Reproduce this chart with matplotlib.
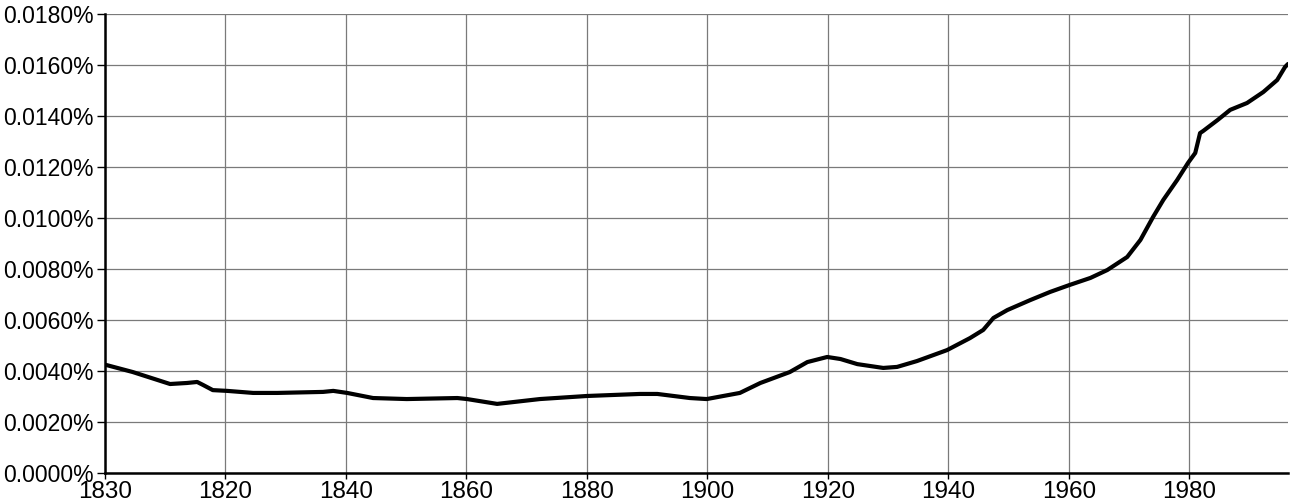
import matplotlib
matplotlib.use("Agg")
import matplotlib.pyplot as plt
from matplotlib.ticker import FixedLocator

years = [1800.0, 1800.3, 1804.6, 1810.8, 1813.6, 1815.3, 1816.3, 1817.9, 1820.3, 1824.6,
         1828.6, 1836.2, 1837.9, 1840.2, 1844.5, 1850.1, 1858.5, 1860.1, 1865.1,
         1872.2, 1880.0, 1888.8, 1891.7, 1897.1, 1899.9, 1905.4, 1908.8, 1913.7,
         1916.6, 1919.9, 1922.1, 1924.9, 1929.2, 1931.5, 1934.8, 1939.8, 1943.6,
         1945.8, 1947.5, 1949.8, 1953.6, 1956.9, 1960.1, 1963.6, 1966.4, 1969.7,
         1971.9, 1974.0, 1975.7, 1978.0, 1979.8, 1981.0, 1981.8, 1982.3, 1984.7,
         1986.8, 1989.6, 1992.3, 1994.6, 1995.9, 1996.4]
values = [0.00424, 0.00423, 0.00396, 0.00349, 0.00353, 0.00357, 0.00345, 0.00325,
          0.00322, 0.00314, 0.00314, 0.00318, 0.00322, 0.00314, 0.00294, 0.00290,
          0.00294, 0.00290, 0.00271, 0.00290, 0.00302, 0.00310, 0.00310, 0.00294,
          0.00290, 0.00314, 0.00353, 0.00396, 0.00435, 0.00455, 0.00447, 0.00427,
          0.00412, 0.00416, 0.00439, 0.00482, 0.00529, 0.00561, 0.00608, 0.00639,
          0.00678, 0.00710, 0.00737, 0.00765, 0.00796, 0.00847, 0.00914, 0.01004,
          0.01071, 0.01149, 0.01216, 0.01255, 0.01333, 0.01341, 0.01384, 0.01424,
          0.01451, 0.01494, 0.01541, 0.01592, 0.01604]

xticks = [1800, 1820, 1840, 1860, 1880, 1900, 1920, 1940, 1960, 1980]
xtick_labels = ["1830", "1820", "1840", "1860", "1880", "1900", "1920", "1940", "1960", "1980"]
yticks = [0.0, 0.002, 0.004, 0.006, 0.008, 0.010, 0.012, 0.014, 0.016, 0.018]
ytick_labels = ["%.4f%%" % v for v in yticks]

plt.rcParams['font.family'] = ['Liberation Sans', 'DejaVu Sans']

fig = plt.figure(figsize=(12.9, 5.04), dpi=100)
ax = fig.add_axes([105/1290, 31/504, (1288-105)/1290, (473-14)/504])

ax.plot(years, values, color="black", linewidth=3.0, solid_capstyle="round",
        solid_joinstyle="round", zorder=3)

ax.set_xlim(1800, 1996.4)
ax.set_ylim(0, 0.018)
ax.xaxis.set_major_locator(FixedLocator(xticks))
ax.set_xticklabels(xtick_labels)
ax.yaxis.set_major_locator(FixedLocator(yticks))
ax.set_yticklabels(ytick_labels)

ax.grid(True, color="#7a7a7a", linewidth=0.9)
for s in ["top", "right"]:
    ax.spines[s].set_visible(False)
ax.spines["left"].set_linewidth(1.8)
ax.spines["bottom"].set_linewidth(1.8)
ax.tick_params(axis="y", labelsize=16.5, length=6, width=1, colors="black", pad=2)
ax.tick_params(axis="x", labelsize=17.5, length=4, width=1, colors="black", pad=1.5)

fig.savefig("out.png", dpi=100)
